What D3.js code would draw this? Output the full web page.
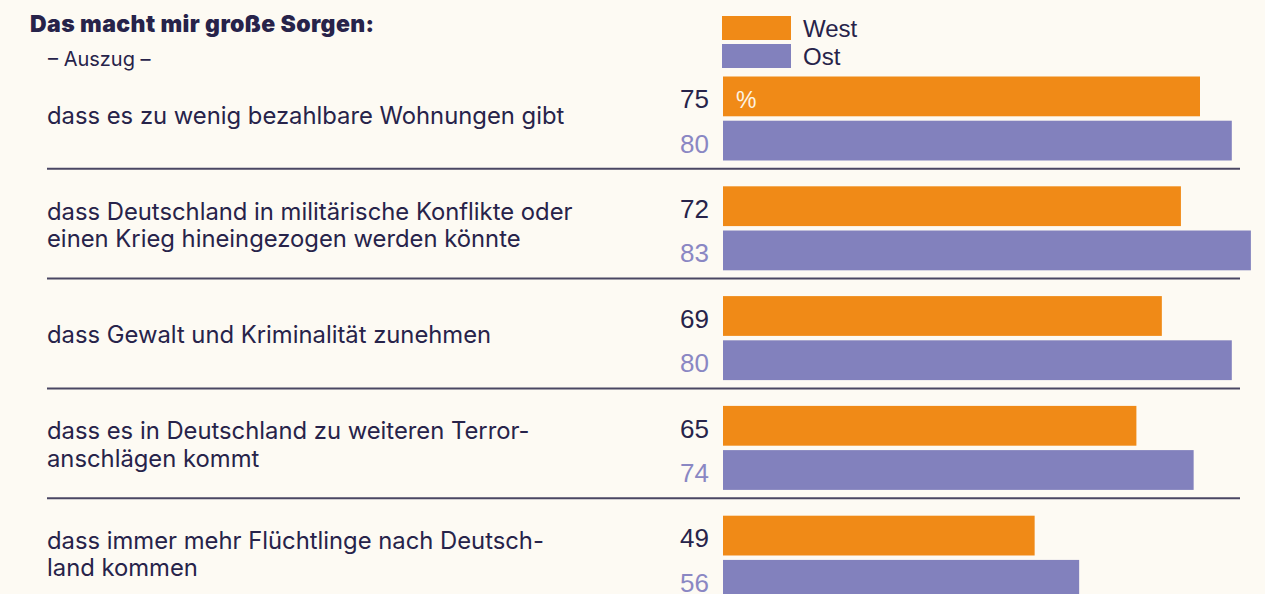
<!DOCTYPE html>
<html>
<head>
<meta charset="utf-8">
<script src="https://cdn.jsdelivr.net/npm/d3@7"></script>
<style>
  html, body { margin: 0; padding: 0; background: #fdfaf3; }
  svg { display: block; }
</style>
</head>
<body>
<svg id="chart" width="1265" height="594"></svg>
<script>
// Werte aus der Grafik (Prozent)
const categories = [
    "dass es zu wenig bezahlbare Wohnungen gibt",
    "dass Deutschland in militärische Konflikte oder\neinen Krieg hineingezogen werden könnte",
    "dass Gewalt und Kriminalität zunehmen",
    "dass es in Deutschland zu weiteren Terror-\nanschlägen kommt",
    "dass immer mehr Flüchtlinge nach Deutsch-\nland kommen"
];
const series = ["West", "Ost"];
const west = [75, 72, 69, 65, 49];
const ost = [80, 83, 80, 74, 56];

const colors = { West: "#f08a17", Ost: "#8281bd" };
const labelColors = { West: "#27234a", Ost: "#8a87c3" };
const navy = "#27234a";

let viewChart = {
    render: function() {
        const svg = d3.select("#chart");
        svg.selectAll("*").remove();

        const rows = categories.map((c, i) => ({ label: c, West: west[i], Ost: ost[i], i: i }));

        // Scales
        const xScale = d3.scaleLinear()
            .domain([0, 100])
            .range([723, 1359]);
        const yScale = d3.scaleBand()
            .domain(rows.map(d => d.i))
            .range([76.5, 76.5 + 109.8 * rows.length])
            .padding(0);
        const ySub = d3.scaleBand()
            .domain(series)
            .range([0, 84])
            .paddingInner(0.1);

        // Title
        svg.append("text")
            .attr("x", 30).attr("y", 32)
            .attr("font-family", "Inter, sans-serif")
            .attr("font-weight", 900)
            .attr("font-size", 23)
            .attr("letter-spacing", 0.4)
            .attr("fill", navy)
            .text("Das macht mir große Sorgen:");
        svg.append("text")
            .attr("x", 48).attr("y", 66)
            .attr("font-family", "Inter, sans-serif")
            .attr("font-size", 20)
            .attr("fill", navy)
            .text("– Auszug –");

        // Legend
        const legend = svg.append("g").attr("transform", "translate(722,16)");
        series.forEach((s, i) => {
            legend.append("rect")
                .attr("x", 0).attr("y", i * 28)
                .attr("width", 69).attr("height", 24)
                .attr("fill", colors[s]);
            legend.append("text")
                .attr("x", 81).attr("y", i * 28 + 21)
                .attr("font-family", "Liberation Sans, Arial, sans-serif")
                .attr("font-size", 24)
                .attr("fill", navy)
                .text(s);
        });

        // Separators between rows
        svg.selectAll(".sep").data(rows.slice(1)).enter().append("line")
            .attr("class", "sep")
            .attr("x1", 47).attr("x2", 1240)
            .attr("y1", d => yScale(d.i) - 17.5)
            .attr("y2", d => yScale(d.i) - 17.5)
            .attr("stroke", "#4a4663")
            .attr("stroke-width", 2);

        const groups = svg.selectAll(".row").data(rows).enter().append("g")
            .attr("class", "row")
            .attr("transform", d => `translate(0, ${yScale(d.i)})`);

        // Category labels
        groups.append("text")
            .attr("font-family", "Inter, sans-serif")
            .attr("font-size", 23.8)
            .attr("fill", navy)
            .each(function(d) {
                const lines = d.label.split("\n");
                const lh = 27.5;
                const y0 = 39 - (lines.length - 1) * lh / 2 + 8;
                lines.forEach((l, k) => {
                    d3.select(this).append("tspan")
                        .attr("x", 47)
                        .attr("y", y0 + k * lh)
                        .text(l);
                });
            });

        // Bars
        groups.selectAll(".bar").data(d => series.map(s => ({ s: s, v: d[s] }))).enter().append("rect")
            .attr("class", "bar")
            .attr("x", xScale(0))
            .attr("y", d => ySub(d.s))
            .attr("height", ySub.bandwidth())
            .attr("width", d => xScale(d.v) - xScale(0))
            .attr("fill", d => colors[d.s]);

        // Value labels
        groups.selectAll(".val").data(d => series.map(s => ({ s: s, v: d[s] }))).enter().append("text")
            .attr("class", "val")
            .attr("x", 709)
            .attr("y", d => ySub(d.s) + ySub.bandwidth() - 8)
            .attr("text-anchor", "end")
            .attr("font-family", "Liberation Sans, Arial, sans-serif")
            .attr("font-size", 26)
            .attr("fill", d => labelColors[d.s])
            .text(d => d.v);

        // Percent sign in first bar
        svg.append("text")
            .attr("x", 736)
            .attr("y", yScale(0) + ySub("West") + ySub.bandwidth() - 8)
            .attr("font-family", "Liberation Sans, Arial, sans-serif")
            .attr("font-size", 23)
            .attr("fill", "#fdf3e3")
            .text("%");
    }
}

viewChart.render();
</script>
</body>
</html>
